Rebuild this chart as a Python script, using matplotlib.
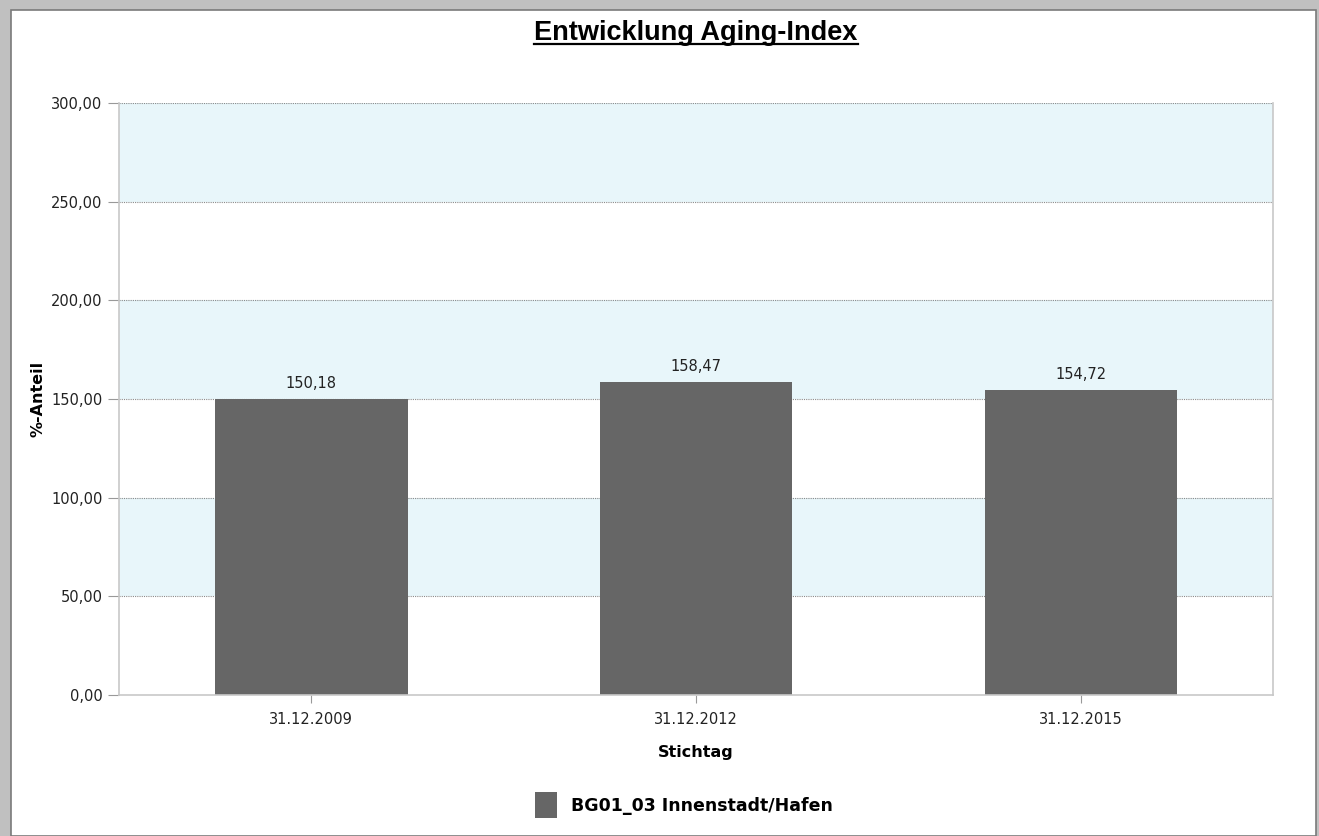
import matplotlib
matplotlib.use("Agg")
import matplotlib.pyplot as plt
from matplotlib.patches import Rectangle
from matplotlib.lines import Line2D


dates = ["31.12.2009", "31.12.2012", "31.12.2015"]
aging_index = [150.18, 158.47, 154.72]
yticks = [0, 50, 100, 150, 200, 250, 300]
series_name = "BG01_03 Innenstadt/Hafen"

BAR_COLOR = "#666666"
BAND_COLOR = "#e8f6fa"


def de_fmt(v):
    """German number format with comma"""
    return f"{v:.2f}".replace(".", ",")


plt.rcParams["font.family"] = ["DejaVu Sans"]

W, H = 1319, 836
fig = plt.figure(figsize=(W / 100, H / 100), dpi=100)
fig.patch.set_facecolor("#c0c0c0")

# white panel with thin dark edge (behind the axes)
fig.patches.append(Rectangle((11 / W, 0), (1316 - 11) / W, (H - 10) / H,
                             transform=fig.transFigure, facecolor="white",
                             edgecolor="#7a7a7a", linewidth=1.2, zorder=-10))

ax = fig.add_axes([119 / W, 1 - 695 / H, (1273 - 119) / W, (695 - 103) / H])
ax.set_facecolor("white")

# alternating bands
for lo in range(50, 300, 100):
    ax.axhspan(lo, lo + 50, color=BAND_COLOR, zorder=0, lw=0)

for y in yticks[1:]:
    ax.axhline(y, color="#8a8a8a", ls=(0, (1, 1)), lw=0.8, zorder=1)

x = list(range(len(dates)))
bars = ax.bar(x, aging_index, width=0.5, color=BAR_COLOR, zorder=2, label=series_name)

for xi, v in zip(x, aging_index):
    ax.text(xi, v + 4, de_fmt(v), ha="center", va="bottom", fontsize=10.5, color="#222222")

ax.set_xlim(-0.5, 2.5)
ax.set_ylim(0, 300)
ax.set_yticks(yticks)
ax.set_yticklabels([de_fmt(v) for v in yticks], fontsize=10.5, color="#222222")
ax.set_xticks(x)
ax.set_xticklabels(dates, fontsize=10.5, color="#222222")
ax.tick_params(axis="y", length=8, width=0.8, color="#999999", pad=4)
ax.tick_params(axis="x", length=6, width=0.8, color="#999999", pad=6)

for side in ["left", "bottom", "right"]:
    ax.spines[side].set_color("#c8c8c8")
    ax.spines[side].set_linewidth(1.2)
ax.spines["top"].set_visible(False)

ax.set_xlabel("Stichtag", fontsize=11.5, fontweight="bold", labelpad=13)
ax.set_ylabel("%-Anteil", fontsize=11.5, fontweight="bold", labelpad=4)

# title with underline
title = fig.text(696 / W, 1 - 33 / H, "Entwicklung Aging-Index", ha="center", va="center",
                 fontsize=19.5, fontweight="bold", family="Liberation Sans")
fig.canvas.draw()
bb = title.get_window_extent().transformed(fig.transFigure.inverted())
fig.lines.append(Line2D([bb.x0, bb.x1], [bb.y0 + 0.002, bb.y0 + 0.002],
                        transform=fig.transFigure, color="black", lw=1.6))

fig.legend(handles=[bars], labels=[series_name], loc="center",
           bbox_to_anchor=(684 / W, 1 - 805 / H), frameon=False,
           handlelength=1.3, handleheight=1.9, handletextpad=0.8,
           prop={"weight": "bold", "size": 12.5})

fig.savefig("out.png", dpi=100, facecolor=fig.get_facecolor())
